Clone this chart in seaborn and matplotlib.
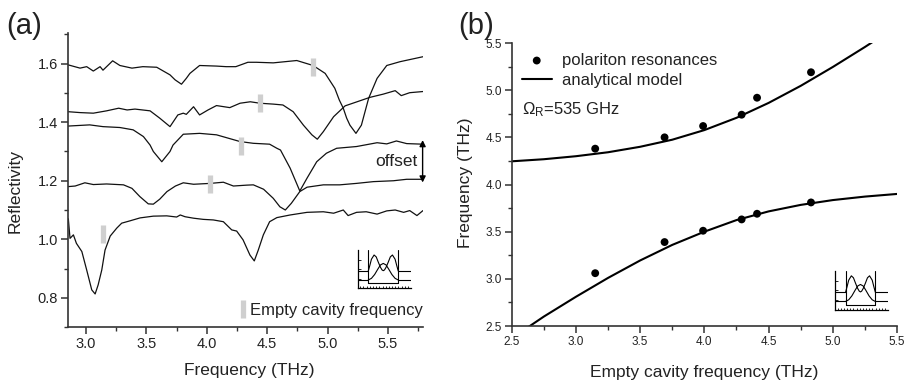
import numpy as np
import pandas as pd
import matplotlib
matplotlib.use("Agg")
import matplotlib.pyplot as plt
from matplotlib.ticker import MultipleLocator
from matplotlib.lines import Line2D
import seaborn as sns

# ---------------- data: panel (a) reflectivity spectra (offset) ----------------
f1 = [2.853, 2.95, 3.005, 3.06, 3.116, 3.14, 3.22, 3.28, 3.38, 3.47, 3.585, 3.695, 3.737, 3.79,
      3.83, 3.86, 3.94, 4.08, 4.16, 4.24, 4.34, 4.41, 4.55, 4.745, 4.88, 4.98, 5.06, 5.097, 5.13,
      5.158, 5.185, 5.235, 5.28, 5.31, 5.34, 5.41, 5.49, 5.60, 5.79]
r1 = [1.596, 1.585, 1.59, 1.575, 1.59, 1.578, 1.61, 1.594, 1.585, 1.59, 1.588, 1.562, 1.545, 1.53,
      1.55, 1.567, 1.594, 1.592, 1.59, 1.59, 1.605, 1.605, 1.603, 1.611, 1.594, 1.567, 1.516, 1.476, 1.448,
      1.414, 1.39, 1.362, 1.39, 1.436, 1.482, 1.55, 1.594, 1.607, 1.624]

f2 = [2.853, 2.95, 3.06, 3.17, 3.27, 3.34, 3.405, 3.53, 3.61, 3.695, 3.76, 3.805, 3.83, 3.89, 3.94,
      4.01, 4.08, 4.19, 4.275, 4.36, 4.44, 4.55, 4.63, 4.715, 4.80, 4.87, 4.915, 4.965, 5.05, 5.145,
      5.23, 5.35, 5.46, 5.56, 5.61, 5.68, 5.79]
r2 = [1.436, 1.433, 1.431, 1.439, 1.448, 1.442, 1.445, 1.439, 1.414, 1.385, 1.425, 1.431, 1.427, 1.453, 1.425,
      1.442, 1.457, 1.45, 1.465, 1.47, 1.465, 1.462, 1.459, 1.436, 1.39, 1.357, 1.342, 1.368, 1.419, 1.456,
      1.468, 1.485, 1.496, 1.508, 1.491, 1.501, 1.505]

f3 = [2.853, 3.03, 3.14, 3.28, 3.39, 3.475, 3.53, 3.557, 3.627, 3.695, 3.72, 3.805, 3.94, 4.08, 4.165,
      4.275, 4.385, 4.52, 4.58, 4.61, 4.69, 4.77, 4.83, 4.91, 4.99, 5.075, 5.24, 5.41, 5.49, 5.57, 5.655, 5.79]
r3 = [1.387, 1.391, 1.385, 1.382, 1.374, 1.351, 1.322, 1.30, 1.265, 1.30, 1.322, 1.359, 1.362, 1.357, 1.347,
      1.334, 1.328, 1.325, 1.311, 1.305, 1.243, 1.165, 1.209, 1.265, 1.294, 1.311, 1.317, 1.33, 1.326, 1.336, 1.327, 1.325]

f4 = [2.853, 2.91, 2.99, 3.06, 3.17, 3.31, 3.38, 3.445, 3.515, 3.557, 3.61, 3.67, 3.74, 3.805, 3.89,
      4.03, 4.137, 4.22, 4.33, 4.385, 4.47, 4.55, 4.605, 4.65, 4.70, 4.77, 4.83, 4.965, 5.10, 5.24,
      5.38, 5.545, 5.655, 5.79]
r4 = [1.18, 1.182, 1.193, 1.187, 1.189, 1.186, 1.174, 1.146, 1.121, 1.12, 1.137, 1.163, 1.182, 1.193, 1.188,
      1.191, 1.195, 1.182, 1.185, 1.186, 1.171, 1.14, 1.111, 1.10, 1.123, 1.163, 1.178, 1.186, 1.186, 1.191,
      1.197, 1.20, 1.205, 1.205]

f5 = [2.853, 2.867, 2.895, 2.92, 2.965, 3.005, 3.047, 3.075, 3.10, 3.13, 3.157, 3.20, 3.254, 3.295,
      3.364, 3.447, 3.557, 3.668, 3.75, 3.78, 3.82, 3.89, 3.97, 4.054, 4.137, 4.206, 4.247, 4.30, 4.357,
      4.393, 4.426, 4.468, 4.52, 4.58, 4.69, 4.83, 4.965, 5.05, 5.13, 5.17, 5.24, 5.32, 5.41, 5.49,
      5.56, 5.63, 5.68, 5.74, 5.79]
r5 = [1.07, 1.003, 1.015, 0.986, 0.958, 0.895, 0.827, 0.813, 0.844, 0.895, 0.963, 1.011, 1.038, 1.055,
      1.063, 1.073, 1.079, 1.08, 1.076, 1.083, 1.077, 1.072, 1.068, 1.066, 1.06, 1.032, 1.028, 0.998, 0.946,
      0.926, 0.963, 1.015, 1.06, 1.074, 1.083, 1.092, 1.094, 1.089, 1.10, 1.081, 1.092, 1.094, 1.086, 1.097,
      1.10, 1.092, 1.098, 1.081, 1.098]

# empty cavity frequency markers (frequency, level on the offset curve)
empty_f = [4.88, 4.44, 4.28, 4.03, 3.14]
empty_r = [1.59, 1.465, 1.318, 1.19, 1.017]

# offset arrow (reflectivity levels)
offset_top = 1.339
offset_bottom = 1.194

# ---------------- data: panel (b) anticrossing ----------------
cavity_f = [3.15, 3.69, 3.99, 4.29, 4.41, 4.83]
upper_pol = [4.38, 4.50, 4.62, 4.74, 4.92, 5.19]
lower_pol = [3.06, 3.39, 3.51, 3.63, 3.69, 3.81]

model_f = [2.5, 2.75, 3.0, 3.25, 3.5, 3.75, 4.0, 4.25, 4.5, 4.75, 5.0, 5.25, 5.5]
model_upper = [4.246, 4.268, 4.30, 4.342, 4.40, 4.475, 4.577, 4.707, 4.865, 5.046, 5.246, 5.458, 5.679]
model_lower = [2.37, 2.60, 2.81, 3.01, 3.195, 3.36, 3.50, 3.623, 3.715, 3.784, 3.835, 3.872, 3.90]

# ---------------- inset schematic (normalised units) ----------------
inset_dbl_x = [0.2, 0.23, 0.26, 0.31, 0.35, 0.39, 0.43, 0.46, 0.483, 0.506, 0.536, 0.576, 0.616, 0.656, 0.706, 0.736, 0.766]
inset_dbl_y = [0.45, 0.60, 0.76, 0.87, 0.82, 0.68, 0.55, 0.48, 0.46, 0.48, 0.55, 0.68, 0.82, 0.87, 0.76, 0.60, 0.45]
inset_sgl_x = [0.2, 0.26, 0.32, 0.38, 0.43, 0.483, 0.536, 0.586, 0.646, 0.706, 0.766]
inset_sgl_y = [0.217, 0.26, 0.36, 0.50, 0.61, 0.65, 0.61, 0.50, 0.36, 0.26, 0.217]
inset_walls = [0.2, 0.766]
inset_levels = [0.45, 0.217]
inset_floor = 0.13

# ---------------- style ----------------
sns.set_theme(style="ticks")
plt.rcParams["font.family"] = ["Liberation Sans", "DejaVu Sans"]
plt.rcParams["mathtext.fontset"] = "custom"
plt.rcParams["mathtext.rm"] = "Liberation Sans"
plt.rcParams["mathtext.it"] = "Liberation Sans:italic"
TXT = "#222222"
SP = "#333333"

fig = plt.figure(figsize=(9.11, 3.84), dpi=100)
ax1 = fig.add_axes([0.0746, 0.1484, 0.3897, 0.7656])
ax2 = fig.add_axes([0.5617, 0.151, 0.423, 0.737])

for ax in (ax1, ax2):
    for s in ("top", "right"):
        ax.spines[s].set_visible(False)
    for s in ("left", "bottom"):
        ax.spines[s].set_linewidth(1.2)
        ax.spines[s].set_color(SP)
    ax.set_facecolor("white")

# ---- panel (a)
for fx, rx in ((f1, r1), (f2, r2), (f3, r3), (f4, r4), (f5, r5)):
    sns.lineplot(x=fx, y=rx, ax=ax1, color="#111111", lw=0.9, estimator=None, sort=False)

ax1.plot(empty_f, empty_r, ls="none", marker="|", ms=13.5, mew=3.8, color="#cfcfcf", zorder=5)
ax1.set_xlim(2.85, 5.79)
ax1.set_ylim(0.70, 1.705)
ax1.xaxis.set_major_locator(MultipleLocator(0.5))
ax1.xaxis.set_minor_locator(MultipleLocator(0.25))
ax1.yaxis.set_major_locator(MultipleLocator(0.2))
ax1.yaxis.set_minor_locator(MultipleLocator(0.1))
ax1.set_yticks([0.8, 1.0, 1.2, 1.4, 1.6])
ax1.tick_params(which="major", direction="out", length=5, width=1.1, color=SP,
                labelsize=10.5, labelcolor=TXT, pad=2)
ax1.tick_params(which="minor", direction="out", length=3, width=1.0, color=SP)
ax1.set_xlabel("")
ax1.set_ylabel("")

ax1.annotate("", xy=(5.787, offset_bottom), xytext=(5.787, offset_top),
             arrowprops=dict(arrowstyle="<|-|>", color="black", lw=1.0, mutation_scale=9,
                             shrinkA=0, shrinkB=0),
             annotation_clip=False)
ax1.text(5.745, (offset_top + offset_bottom) / 2, "offset", ha="right", va="center",
         fontsize=12.5, color=TXT)

h_empty = Line2D([], [], ls="none", marker="|", ms=13.5, mew=3.8, color="#cfcfcf")
ax1.legend([h_empty], ["Empty cavity frequency"], loc="lower right", bbox_to_anchor=(1.0, 0.03),
           frameon=False, fontsize=12, handlelength=0.6, handletextpad=0.15, borderpad=0,
           borderaxespad=0, labelcolor=TXT)

# ---- panel (b)
sns.lineplot(x=model_f, y=model_upper, ax=ax2, color="black", lw=1.5, estimator=None, sort=False,
             label="analytical model")
sns.lineplot(x=model_f, y=model_lower, ax=ax2, color="black", lw=1.5, estimator=None, sort=False)
sns.scatterplot(x=cavity_f + cavity_f, y=upper_pol + lower_pol, ax=ax2, color="black", s=32,
                edgecolor="none", label="polariton resonances", zorder=5)
ax2.set_xlim(2.5, 5.5)
ax2.set_ylim(2.5, 5.5)
ax2.xaxis.set_major_locator(MultipleLocator(0.5))
ax2.xaxis.set_minor_locator(MultipleLocator(0.25))
ax2.yaxis.set_major_locator(MultipleLocator(0.5))
ax2.yaxis.set_minor_locator(MultipleLocator(0.25))
ax2.tick_params(which="major", direction="out", length=5, width=1.1, color=SP,
                labelsize=8.5, labelcolor=TXT, pad=2)
ax2.tick_params(which="minor", direction="out", length=3, width=1.0, color=SP)
ax2.set_xlabel("")
ax2.set_ylabel("")
hs, ls = ax2.get_legend_handles_labels()
order = [ls.index("polariton resonances"), ls.index("analytical model")]
ax2.legend([hs[i] for i in order], [ls[i] for i in order], loc="upper left",
           bbox_to_anchor=(0.026, 0.965), frameon=False, fontsize=12, handlelength=1.8,
           handletextpad=0.6, labelspacing=0.3, borderpad=0, borderaxespad=0, labelcolor=TXT)
ax2.text(0.026, 0.763, r"$\Omega_\mathrm{R}$=535 GHz", transform=ax2.transAxes, fontsize=12,
         color=TXT, ha="left", va="center")

# ---- inset schematics
for rect in ([0.3926, 0.2492, 0.0582, 0.0997], [0.9166, 0.1927, 0.0578, 0.1023]):
    ia = fig.add_axes(rect)
    ia.set_xlim(0, 1)
    ia.set_ylim(0, 1)
    ia.patch.set_alpha(0)
    for s in ("top", "right"):
        ia.spines[s].set_visible(False)
    for s in ("left", "bottom"):
        ia.spines[s].set_linewidth(0.9)
        ia.spines[s].set_color("black")
    ia.set_xticks(np.arange(0.05, 1.0, 0.06))
    ia.set_yticks([0.25, 0.5, 0.75])
    ia.tick_params(direction="in", length=1.8, width=0.6, labelbottom=False, labelleft=False, color="black")
    sns.lineplot(x=inset_dbl_x, y=inset_dbl_y, ax=ia, color="black", lw=0.8, estimator=None, sort=False)
    sns.lineplot(x=inset_sgl_x, y=inset_sgl_y, ax=ia, color="black", lw=0.8, estimator=None, sort=False)
    for lv in inset_levels:
        ia.plot([0, inset_walls[0]], [lv, lv], color="black", lw=0.8)
        ia.plot([inset_walls[1], 1], [lv, lv], color="black", lw=0.8)
    for w in inset_walls:
        ia.plot([w, w], [inset_floor, 1], color="black", lw=0.8)
    ia.plot(inset_walls, [inset_floor, inset_floor], color="black", lw=0.8)

# ---- labels
fig.text(24 / 911, 1 - 26 / 384, "(a)", ha="center", va="center", fontsize=21, color=TXT)
fig.text(476 / 911, 1 - 26 / 384, "(b)", ha="center", va="center", fontsize=21, color=TXT)
fig.text(15 / 911, 1 - 191 / 384, "Reflectivity", rotation=90, ha="center", va="center",
         fontsize=12.5, color=TXT)
fig.text(249 / 911, 1 - 371 / 384, "Frequency (THz)", ha="center", va="center", fontsize=12.5, color=TXT)
fig.text(466 / 911, 1 - 183 / 384, "Frequency (THz)", rotation=90, ha="center", va="center",
         fontsize=12.5, color=TXT)
fig.text(704 / 911, 1 - 372 / 384, "Empty cavity frequency (THz)", ha="center", va="center",
         fontsize=12.5, color=TXT)

fig.savefig("out.png", dpi=100, facecolor="white")
